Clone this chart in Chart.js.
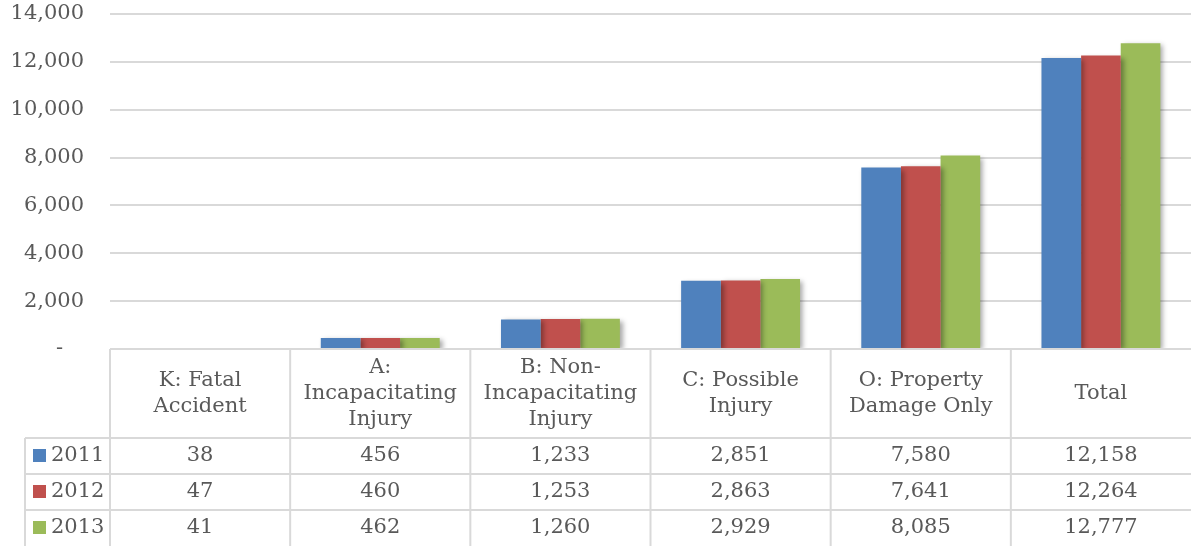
<!DOCTYPE html>
<html>
<head>
<meta charset="utf-8">
<script src="https://cdn.jsdelivr.net/npm/chart.js@4.4.1/dist/chart.umd.min.js"></script>
<style>
  html, body { margin: 0; padding: 0; background: #ffffff; }
  #wrap { width: 1191px; height: 546px; position: relative; }
</style>
</head>
<body>
<div id="wrap"><canvas id="c" width="1191" height="546"></canvas></div>
<script>
// Crash counts by severity, three years
const categories = [
  ["K: Fatal", "Accident"],
  ["A:", "Incapacitating", "Injury"],
  ["B: Non-", "Incapacitating", "Injury"],
  ["C: Possible", "Injury"],
  ["O: Property", "Damage Only"],
  ["Total"]
];
const years = ["2011", "2012", "2013"];
const values2011 = [38, 456, 1233, 2851, 7580, 12158];
const values2012 = [47, 460, 1253, 2863, 7641, 12264];
const values2013 = [41, 462, 1260, 2929, 8085, 12777];
const yTicks = [0, 2000, 4000, 6000, 8000, 10000, 12000, 14000];

const seriesColors = ["#4f81bd", "#c0504d", "#9bbb59"];
const textColor = "#595959";
const lineColor = "#d9d9d9";
const fontFamily = "'DejaVu Serif', serif";
const fontSize = 21;

const fmt = v => v === 0 ? "-" : v.toLocaleString("en-US");
// accounting-style zero: dash set in from the right edge
const fmtTick = v => v === 0 ? "-\u2002\u2002" : v.toLocaleString("en-US");

// Soft drop shadow behind each bar
const barShadow = {
  id: "barShadow",
  beforeDatasetDraw(chart) {
    const ctx = chart.ctx;
    ctx.save();
    ctx.shadowColor = "rgba(0,0,0,0.35)";
    ctx.shadowBlur = 5;
    ctx.shadowOffsetX = 3;
    ctx.shadowOffsetY = 2;
  },
  afterDatasetDraw(chart) {
    chart.ctx.restore();
  }
};

// Data table under the plot: category headers, legend keys, values
const dataTable = {
  id: "dataTable",
  afterDraw(chart) {
    const ctx = chart.ctx;
    const xs = chart.scales.x;
    const area = chart.chartArea;
    const top = area.bottom;
    const headerBottom = top + 89;
    const rowH = 36;
    const legendLeft = 25;
    const n = categories.length;
    const half = (xs.getPixelForValue(1) - xs.getPixelForValue(0)) / 2;
    const rows = [values2011, values2012, values2013];

    ctx.save();
    ctx.strokeStyle = lineColor;
    ctx.lineWidth = 2;
    ctx.beginPath();
    // top border (axis line)
    ctx.moveTo(area.left, top);
    ctx.lineTo(area.right, top);
    // row separators
    for (let r = 0; r < rows.length; r++) {
      const y = headerBottom + r * rowH;
      ctx.moveTo(legendLeft, y);
      ctx.lineTo(area.right, y);
    }
    // legend column left edge
    ctx.moveTo(legendLeft, headerBottom);
    ctx.lineTo(legendLeft, chart.height);
    // column separators
    for (let i = 0; i < n; i++) {
      const x = xs.getPixelForValue(i) - half;
      ctx.moveTo(x, top);
      ctx.lineTo(x, chart.height);
    }
    ctx.stroke();

    ctx.fillStyle = textColor;
    ctx.font = fontSize + "px " + fontFamily;
    ctx.textAlign = "center";
    ctx.textBaseline = "middle";
    const lineH = 26;
    const headMid = (top + headerBottom) / 2;
    categories.forEach((lines, i) => {
      const cx = xs.getPixelForValue(i);
      const y0 = headMid - (lines.length - 1) * lineH / 2;
      lines.forEach((t, k) => ctx.fillText(t, cx, y0 + k * lineH));
    });

    rows.forEach((vals, r) => {
      const cy = headerBottom + r * rowH + rowH / 2;
      vals.forEach((v, i) => {
        ctx.fillText(fmt(v), xs.getPixelForValue(i), cy);
      });
      ctx.fillStyle = seriesColors[r];
      ctx.fillRect(legendLeft + 8, cy - 7, 13, 13);
      ctx.fillStyle = textColor;
      ctx.textAlign = "left";
      ctx.fillText(years[r], legendLeft + 26, cy);
      ctx.textAlign = "center";
    });
    ctx.restore();
  }
};

new Chart(document.getElementById("c"), {
  type: "bar",
  data: {
    labels: categories,
    datasets: [
      { label: years[0], data: values2011, backgroundColor: seriesColors[0] },
      { label: years[1], data: values2012, backgroundColor: seriesColors[1] },
      { label: years[2], data: values2013, backgroundColor: seriesColors[2] }
    ]
  },
  options: {
    responsive: false,
    animation: false,
    events: [],
    layout: { padding: { top: 14, right: 0, bottom: 197, left: 0 } },
    categoryPercentage: 0.66,
    barPercentage: 1.0,
    plugins: { legend: { display: false }, tooltip: { enabled: false } },
    scales: {
      x: { display: false },
      y: {
        min: 0, max: 14000,
        afterBuildTicks(scale) { scale.ticks = yTicks.map(v => ({ value: v })); },
        afterFit(scale) {
          scale.width = 110;
          scale.paddingTop = 0;
          scale.paddingBottom = 0;
        },
        border: { display: false },
        grid: { color: lineColor, lineWidth: 2, drawTicks: false },
        ticks: {
          padding: 26,
          color: textColor,
          font: { family: fontFamily, size: fontSize },
          callback: v => fmtTick(v)
        }
      }
    }
  },
  plugins: [barShadow, dataTable]
});
</script>
</body>
</html>
